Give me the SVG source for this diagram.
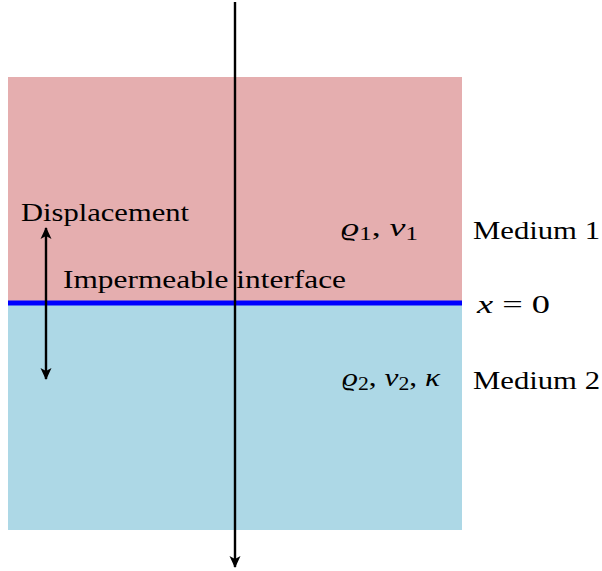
<svg xmlns="http://www.w3.org/2000/svg" width="602" height="571" viewBox="0 0 602 571">
<style>
text{font-family:"Liberation Serif","DejaVu Serif",serif;font-size:26px;fill:#000}
.m{font-style:italic}
.s{font-size:18px;font-style:normal}
.ln{stroke:#000;stroke-width:2.4;fill:none}
</style>
<defs>
<marker id="ah" viewBox="0 0 12 14" refX="11" refY="7" markerWidth="12" markerHeight="14" markerUnits="userSpaceOnUse" orient="auto-start-reverse">
<path d="M0,1.5 L12,7 L0,12.5 L3,7 Z" fill="#000"/>
</marker>
</defs>
<g id="medium1"><rect x="8" y="77" width="454" height="226" fill="#e5aeaf"/></g>
<g id="medium2"><rect x="8" y="303" width="454" height="227" fill="#add8e6"/></g>
<g id="interface"><rect x="8" y="300.5" width="454" height="5" fill="#0000ff"/></g>
<g id="connectors">
<line class="ln" x1="235" y1="2" x2="235" y2="567" marker-end="url(#ah)"/>
<line class="ln" x1="46" y1="228" x2="46" y2="379" marker-start="url(#ah)" marker-end="url(#ah)"/>
</g>
<g id="labels">
<text x="21" y="221" textLength="168" lengthAdjust="spacingAndGlyphs">Displacement</text>
<text x="63" y="288" textLength="283" lengthAdjust="spacingAndGlyphs">Impermeable interface</text>
<text x="341" y="236" class="m" textLength="77" lengthAdjust="spacingAndGlyphs">ϱ<tspan class="s" dy="4">1</tspan><tspan dy="-4" style="font-style:normal">, </tspan>v<tspan class="s" dy="4">1</tspan></text>
<text x="473" y="239" textLength="127" lengthAdjust="spacingAndGlyphs">Medium 1</text>
<text x="477" y="313" textLength="73" lengthAdjust="spacingAndGlyphs"><tspan class="m">x</tspan> = 0</text>
<text x="342" y="386" class="m" textLength="98" lengthAdjust="spacingAndGlyphs">ϱ<tspan class="s" dy="4">2</tspan><tspan dy="-4" style="font-style:normal">, </tspan>v<tspan class="s" dy="4">2</tspan><tspan dy="-4" style="font-style:normal">, </tspan>κ</text>
<text x="473" y="389" textLength="127" lengthAdjust="spacingAndGlyphs">Medium 2</text>
</g>
</svg>
